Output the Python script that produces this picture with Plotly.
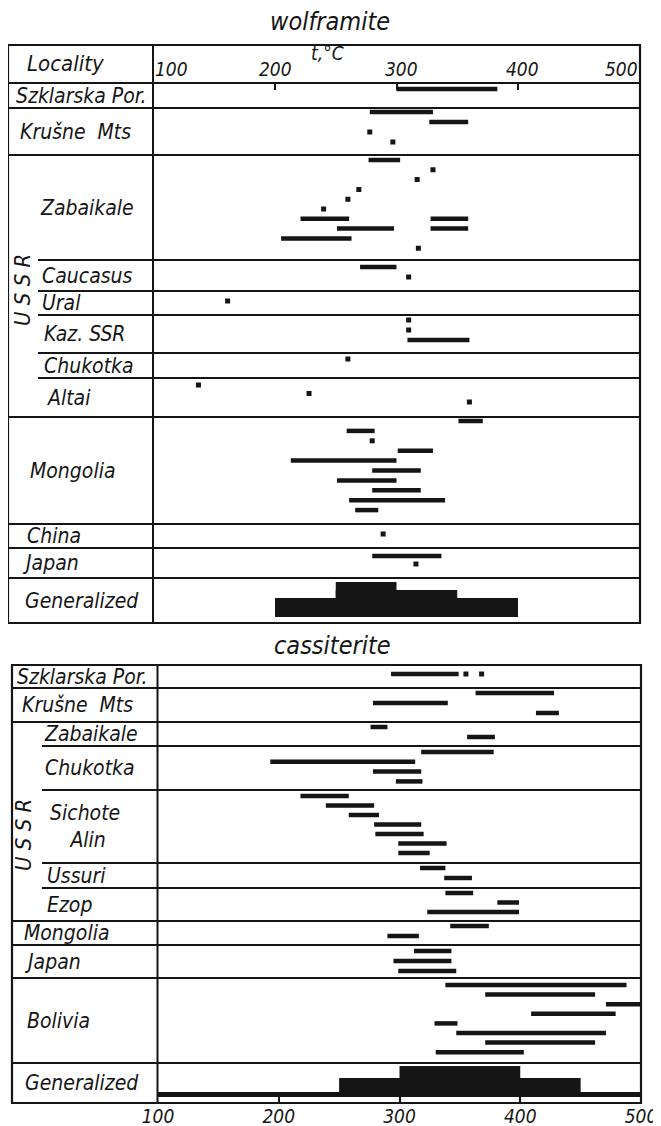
import plotly.graph_objects as go

# page offset (body margin) compensation: reference pixel -> figure pixel
OFF = 8
FIG_W, FIG_H = 661 - OFF, 1126 - OFF
FONT = "DejaVu Sans Condensed, Liberation Sans Narrow, Arial Narrow, DejaVu Sans, sans-serif"
INK = "#151515"

# ---------------- data ----------------
TICK_VALUES = [100, 200, 300, 400, 500]
AXIS_TITLE = "t,°C"

W_TITLE = "wolframite"
W_LOCALITIES = ["Szklarska Por.", "Krušne  Mts", "Zabaikale", "Caucasus", "Ural", "Kaz. SSR",
                "Chukotka", "Altai", "Mongolia", "China", "Japan", "Generalized"]
W_SZKLARSKA = [[(300, 383)]]
W_KRUSNE = [[(278, 330)], [(327, 359)], [(278, 278)], [(297, 297)]]
W_ZABAIKALE = [[(277, 303)], [(330, 330)], [(317, 317)], [(269, 269)], [(260, 260)], [(240, 240)],
               [(221, 261), (328, 359)], [(251, 298), (328, 359)], [(205, 263)], [(318, 318)]]
W_CAUCASUS = [[(270, 300)], [(310, 310)]]
W_URAL = [[(161, 161)]]
W_KAZ = [[(310, 310)], [(310, 310)], [(309, 360)]]
W_CHUKOTKA = [[(260, 260)]]
W_ALTAI = [[(137, 137)], [(228, 228)], [(360, 360)]]
W_MONGOLIA = [[(351, 371)], [(259, 282)], [(280, 280)], [(301, 330)], [(213, 300)], [(280, 320)],
              [(251, 300)], [(280, 320)], [(261, 340)], [(266, 285)]]
W_CHINA = [[(289, 289)]]
W_JAPAN = [[(280, 337)], [(316, 316)]]
W_GEN_RANGES = [(200, 400), (250, 350), (250, 300)]
W_GEN_LEVELS = [1.9, 2.7, 3.5]

C_TITLE = "cassiterite"
C_LOCALITIES = ["Szklarska Por.", "Krušne  Mts", "Zabaikale", "Chukotka", "Sichote<br>\u00a0Alin", "Ussuri",
                "Ezop", "Mongolia", "Japan", "Bolivia", "Generalized"]
C_SZKLARSKA = [[(293, 349), (355, 355), (368, 368)]]
C_KRUSNE = [[(363, 428)], [(278, 340)], [(413, 432)]]
C_ZABAIKALE = [[(276, 290)], [(356, 379)]]
C_CHUKOTKA = [[(318, 378)], [(193, 313)], [(278, 318)], [(297, 319)]]
C_SICHOTE = [[(218, 258)], [(239, 279)], [(258, 283)], [(279, 318)], [(280, 320)], [(299, 339)], [(299, 325)]]
C_USSURI = [[(317, 338)], [(337, 360)]]
C_EZOP = [[(338, 361)], [(381, 399)], [(323, 399)]]
C_MONGOLIA = [[(342, 374)], [(290, 316)]]
C_JAPAN = [[(312, 343)], [(295, 343)], [(299, 347)]]
C_BOLIVIA = [[(338, 488)], [(371, 462)], [(471, 500)], [(409, 479)], [(329, 348)], [(347, 471)],
             [(371, 462)], [(330, 403)]]
C_GEN_RANGES = [(100, 500), (250, 450), (300, 400)]
C_GEN_LEVELS = [0.5, 1.9, 3.1]

# ---------------- layout (pixel geometry of the reference) ----------------
SLOT = 10.0
W_ROW_PX = [25, 47, 105, 31, 24, 38, 25, 39, 107, 24, 30, 45]
W_PAD = [0.6, 0.4, 0.5, 0.7, 1.0, 0.5, 0.6, 0.7, 0.4, 1.0, 0.8, 0]
W_PITCH = [1, 1, 0.98, 1, 1, 1, 1, 0.85, 0.99, 1, 0.8, 1]
W_INDENT = [14, 18, 38, 40, 40, 42, 42, 45, 28, 25, 20, 23]
W_USSR = [False, False, True, True, True, True, True, True, False, False, False, False]

C_ROW_PX = [23, 34, 24, 44, 73, 25, 33, 24, 33, 85, 40]
C_PAD = [0.9, 0.5, 0.5, 0.6, 0.6, 0.5, 0.5, 0.5, 0.6, 0.7, 0]
C_PITCH = [1, 1, 1, 0.98, 0.95, 1, 0.95, 1, 1, 0.96, 1]
C_INDENT = [15, 20, 42, 43, 48, 45, 45, 22, 22, 25, 23]
C_USSR = [False, False, True, True, True, True, True, False, False, False, False]

LABEL_SIZE = 21


def px(x):
    return (x - OFF) / FIG_W


def py(y):
    return 1 - (y - OFF) / FIG_H


fig = go.Figure()
shapes = []
annotations = []


def add_text(text, x, y, size=LABEL_SIZE, xref="paper", yref="paper", xanchor="left", angle=0, xshift=0):
    annotations.append(dict(text="<i>%s</i>" % text, x=x, y=y, xref=xref, yref=yref,
                            xanchor=xanchor, yanchor="middle", showarrow=False, textangle=angle,
                            xshift=xshift, font=dict(family=FONT, size=size, color=INK)))


def hline(x0, x1, y, yref, w=1.8):
    shapes.append(dict(type="line", xref="paper", yref=yref, x0=px(x0), x1=px(x1), y0=y, y1=y,
                       line=dict(color=INK, width=w)))


def build_table(xa, ya, labels, rows, gen_ranges, gen_levels, row_px, pads, pitches, indents, ussr,
                left, inner, right, top, bottom, divider, ussr_pos):
    tops = []
    acc = 0
    for h in row_px:
        tops.append(acc / SLOT)
        acc += h
    by, bb, bl, dx, dy = [], [], [], [], []
    for i, lines in enumerate(rows):
        for j, segs in enumerate(lines):
            yy = tops[i] + pads[i] + j * pitches[i]
            for lo, hi in segs:
                if hi == lo:
                    dx.append(lo)
                    dy.append(yy)
                else:
                    by.append(yy)
                    bb.append(lo)
                    bl.append(hi - lo)
    fig.add_trace(go.Bar(orientation="h", y=by, x=bl, base=bb, width=0.45,
                         marker=dict(color=INK, line=dict(width=0)), xaxis=xa, yaxis=ya,
                         hoverinfo="skip", showlegend=False))
    fig.add_trace(go.Scatter(x=dx, y=dy, mode="markers",
                             marker=dict(symbol="square", size=5, color=INK, line=dict(width=0)),
                             xaxis=xa, yaxis=ya, hoverinfo="skip", showlegend=False))
    gi = len(row_px) - 1
    gbot = tops[gi] + row_px[gi] / SLOT - 0.6
    fig.add_trace(go.Bar(orientation="h", y=[gbot - h / 2 for h in gen_levels],
                         x=[hi - lo for lo, hi in gen_ranges], base=[lo for lo, hi in gen_ranges],
                         width=gen_levels, marker=dict(color=INK, line=dict(width=0)),
                         xaxis=xa, yaxis=ya, hoverinfo="skip", showlegend=False))
    for i in range(len(row_px) - 1):
        x0 = inner if (ussr[i] and ussr[i + 1]) else left
        hline(x0, right, tops[i + 1], ya)
    for i, lab in enumerate(labels):
        add_text(lab, px(indents[i]), tops[i] + row_px[i] / 2 / SLOT, yref=ya)
    shapes.append(dict(type="rect", xref="paper", yref="paper", x0=px(left), x1=px(right),
                       y0=py(bottom), y1=py(top), line=dict(color=INK, width=2.2)))
    shapes.append(dict(type="line", xref="paper", yref="paper", x0=px(divider), x1=px(divider),
                       y0=py(bottom), y1=py(top), line=dict(color=INK, width=2)))
    add_text("U S S R", px(ussr_pos[0]), py(ussr_pos[1]), size=22, xanchor="center", angle=-90)


build_table("x", "y", W_LOCALITIES,
            [W_SZKLARSKA, W_KRUSNE, W_ZABAIKALE, W_CAUCASUS, W_URAL, W_KAZ, W_CHUKOTKA, W_ALTAI,
             W_MONGOLIA, W_CHINA, W_JAPAN],
            W_GEN_RANGES, W_GEN_LEVELS, W_ROW_PX, W_PAD, W_PITCH, W_INDENT, W_USSR,
            8, 38, 640, 45, 623, 153, (22, 290))
build_table("x2", "y2", C_LOCALITIES,
            [C_SZKLARSKA, C_KRUSNE, C_ZABAIKALE, C_CHUKOTKA, C_SICHOTE, C_USSURI, C_EZOP,
             C_MONGOLIA, C_JAPAN, C_BOLIVIA],
            C_GEN_RANGES, C_GEN_LEVELS, C_ROW_PX, C_PAD, C_PITCH, C_INDENT, C_USSR,
            12, 42, 641, 665, 1103, 157.5, (23, 835))

# header row of the wolframite table
hline(8, 640, py(83), "paper", w=2)
add_text("Locality", px(25), py(64), size=22)
for v, sh in zip(TICK_VALUES, [18, 0, 5, 4, -18]):
    add_text(str(v), v, py(69), size=19, xref="x", xanchor="center", xshift=sh)
add_text(AXIS_TITLE, 243, py(53), size=19, xref="x", xanchor="center")

# titles
add_text(W_TITLE, px(330), py(22), size=25, xanchor="center")
add_text(C_TITLE, px(332), py(645), size=25, xanchor="center")

axis_common = dict(range=[100, 500], showgrid=False, zeroline=False, showline=False,
                   ticks="inside", ticklen=7, tickwidth=1.5, tickcolor=INK, fixedrange=True,
                   automargin=False)
fig.update_layout(
    width=FIG_W, height=FIG_H,
    margin=dict(l=0, r=0, t=0, b=0, autoexpand=False),
    paper_bgcolor="white", plot_bgcolor="white",
    barmode="overlay", showlegend=False,
    xaxis=dict(domain=[px(153.5), px(639.5)], anchor="y", side="top",
               tickvals=[200, 300, 400], showticklabels=False, **axis_common),
    yaxis=dict(domain=[py(623), py(83)], range=[54, 0], visible=False, fixedrange=True, automargin=False),
    xaxis2=dict(domain=[px(158), px(641)], anchor="y2", side="bottom",
                tickvals=TICK_VALUES, ticktext=["<i>%d</i>" % v for v in TICK_VALUES],
                tickfont=dict(family=FONT, size=19, color=INK), **axis_common),
    yaxis2=dict(domain=[py(1103), py(665)], range=[43.8, 0], visible=False, fixedrange=True,
                automargin=False),
    shapes=shapes, annotations=annotations,
)

fig.write_html("out.html")
